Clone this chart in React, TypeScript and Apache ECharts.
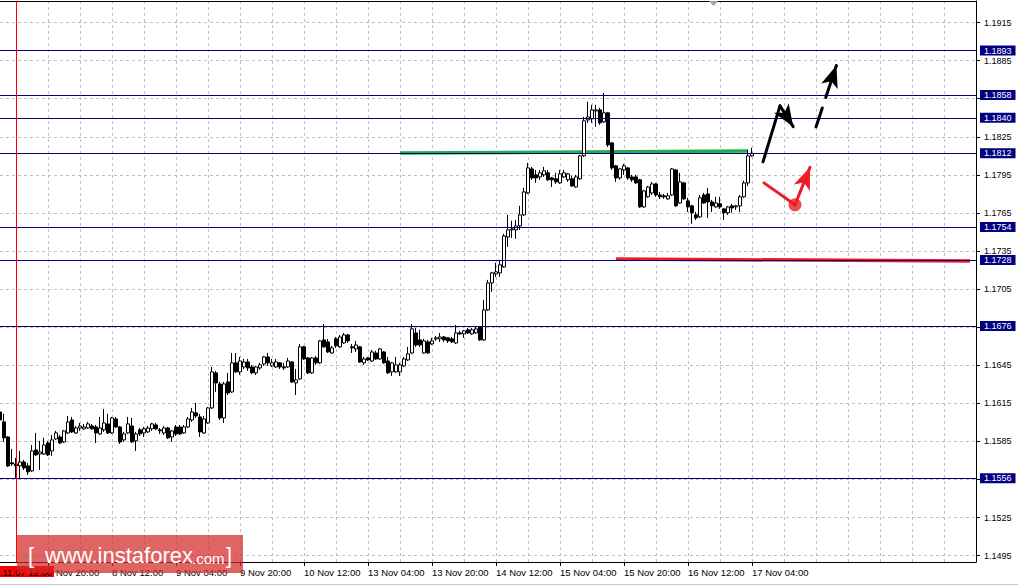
import React, { useEffect, useRef } from "react";
import * as echarts from "echarts";

// ---------- data ----------
const openPrices = [
  1.16082, 1.16004, 1.15885, 1.15681, 1.15673, 1.15657, 1.15688, 1.15657, 1.15618, 1.15783,
  1.15751, 1.15751, 1.15838, 1.15775, 1.15870, 1.15885, 1.15846, 1.15917, 1.16019, 1.15917,
  1.15956, 1.15949, 1.15956, 1.15972, 1.15964, 1.15909, 1.15941, 1.15988, 1.15917, 1.16027,
  1.15964, 1.15862, 1.15917, 1.15972, 1.15854, 1.15941, 1.15917, 1.15925, 1.15949, 1.15980,
  1.15941, 1.15917, 1.15956, 1.15885, 1.15964, 1.15964, 1.15917, 1.15964, 1.16019, 1.16075,
  1.16043, 1.15917, 1.15996, 1.16114, 1.16390, 1.16303, 1.16035, 1.16319, 1.16240, 1.16469,
  1.16398, 1.16437, 1.16476, 1.16437, 1.16390, 1.16429, 1.16461, 1.16516, 1.16445, 1.16437,
  1.16469, 1.16437, 1.16437, 1.16476, 1.16311, 1.16343, 1.16595, 1.16508, 1.16390, 1.16508,
  1.16469, 1.16650, 1.16634, 1.16547, 1.16658, 1.16595, 1.16626, 1.16689, 1.16595, 1.16579,
  1.16595, 1.16469, 1.16508, 1.16484, 1.16547, 1.16500, 1.16555, 1.16484, 1.16398, 1.16398,
  1.16398, 1.16445, 1.16492, 1.16547, 1.16705, 1.16650, 1.16547, 1.16634, 1.16618, 1.16658,
  1.16658, 1.16673, 1.16666, 1.16658, 1.16626, 1.16705, 1.16697, 1.16729, 1.16697, 1.16705,
  1.16752, 1.16650, 1.16886, 1.17099, 1.17170, 1.17178, 1.17225, 1.17461, 1.17517, 1.17517,
  1.17548, 1.17635, 1.17808, 1.17997, 1.17950, 1.17934, 1.17950, 1.17966, 1.17926, 1.17919,
  1.17887, 1.17934, 1.17911, 1.17919, 1.17855, 1.17919, 1.18100, 1.18383, 1.18391, 1.18454,
  1.18462, 1.18368, 1.18439, 1.18202, 1.18021, 1.17926, 1.17989, 1.18005, 1.17934, 1.17934,
  1.17911, 1.17698, 1.17777, 1.17808, 1.17879, 1.17792, 1.17785, 1.17761, 1.17792, 1.17989,
  1.17729, 1.17887, 1.17745, 1.17706, 1.17635, 1.17619, 1.17792, 1.17800, 1.17737, 1.17698,
  1.17722, 1.17682, 1.17651, 1.17706, 1.17698, 1.17706, 1.17777, 1.17887, 1.18100
];
const closePrices = [
  1.16019, 1.15878, 1.15657, 1.15673, 1.15657, 1.15688, 1.15641, 1.15610, 1.15775, 1.15744,
  1.15767, 1.15822, 1.15744, 1.15862, 1.15917, 1.15838, 1.15933, 1.16004, 1.15925, 1.15956,
  1.15972, 1.15964, 1.15988, 1.15949, 1.15917, 1.15956, 1.15996, 1.15917, 1.16035, 1.15964,
  1.15846, 1.15909, 1.15988, 1.15846, 1.15909, 1.15909, 1.15949, 1.15956, 1.15988, 1.15949,
  1.15933, 1.15956, 1.15878, 1.15933, 1.15909, 1.15909, 1.15964, 1.16027, 1.16082, 1.16051,
  1.15925, 1.16027, 1.16114, 1.16398, 1.16311, 1.16035, 1.16303, 1.16232, 1.16469, 1.16398,
  1.16484, 1.16476, 1.16429, 1.16390, 1.16437, 1.16453, 1.16516, 1.16469, 1.16469, 1.16476,
  1.16437, 1.16429, 1.16484, 1.16319, 1.16335, 1.16595, 1.16500, 1.16390, 1.16508, 1.16469,
  1.16642, 1.16595, 1.16555, 1.16587, 1.16603, 1.16673, 1.16689, 1.16642, 1.16587, 1.16610,
  1.16476, 1.16500, 1.16492, 1.16555, 1.16500, 1.16579, 1.16469, 1.16390, 1.16469, 1.16453,
  1.16453, 1.16500, 1.16540, 1.16737, 1.16610, 1.16610, 1.16642, 1.16547, 1.16642, 1.16666,
  1.16673, 1.16650, 1.16642, 1.16634, 1.16705, 1.16697, 1.16721, 1.16705, 1.16729, 1.16737,
  1.16650, 1.16886, 1.17099, 1.17178, 1.17186, 1.17241, 1.17469, 1.17517, 1.17525, 1.17548,
  1.17635, 1.17816, 1.18005, 1.17926, 1.17926, 1.17966, 1.17982, 1.17911, 1.17911, 1.17895,
  1.17958, 1.17966, 1.17958, 1.17863, 1.17934, 1.18100, 1.18376, 1.18407, 1.18462, 1.18462,
  1.18360, 1.18439, 1.18186, 1.18005, 1.17926, 1.17997, 1.18021, 1.17926, 1.17911, 1.17887,
  1.17698, 1.17824, 1.17855, 1.17879, 1.17792, 1.17777, 1.17777, 1.17785, 1.17997, 1.17706,
  1.17895, 1.17761, 1.17698, 1.17651, 1.17611, 1.17769, 1.17729, 1.17737, 1.17706, 1.17729,
  1.17698, 1.17651, 1.17698, 1.17690, 1.17706, 1.17777, 1.17887, 1.18100, 1.18120
];
const lowPrices = [
  1.16004, 1.15846, 1.15649, 1.15657, 1.15554, 1.15554, 1.15625, 1.15586, 1.15610, 1.15736,
  1.15625, 1.15744, 1.15736, 1.15736, 1.15862, 1.15830, 1.15838, 1.15909, 1.15917, 1.15909,
  1.15933, 1.15941, 1.15949, 1.15941, 1.15838, 1.15901, 1.15925, 1.15909, 1.15909, 1.15956,
  1.15830, 1.15846, 1.15909, 1.15838, 1.15775, 1.15893, 1.15885, 1.15917, 1.15933, 1.15941,
  1.15909, 1.15901, 1.15870, 1.15846, 1.15893, 1.15901, 1.15909, 1.15956, 1.16004, 1.16035,
  1.15885, 1.15909, 1.15988, 1.16106, 1.16240, 1.16019, 1.15996, 1.16216, 1.16232, 1.16390,
  1.16374, 1.16421, 1.16406, 1.16382, 1.16374, 1.16413, 1.16445, 1.16445, 1.16437, 1.16429,
  1.16421, 1.16413, 1.16429, 1.16311, 1.16216, 1.16335, 1.16492, 1.16382, 1.16382, 1.16453,
  1.16461, 1.16587, 1.16547, 1.16540, 1.16587, 1.16587, 1.16618, 1.16626, 1.16547, 1.16555,
  1.16469, 1.16453, 1.16484, 1.16476, 1.16492, 1.16492, 1.16461, 1.16382, 1.16366, 1.16390,
  1.16366, 1.16437, 1.16484, 1.16540, 1.16595, 1.16595, 1.16540, 1.16540, 1.16610, 1.16642,
  1.16634, 1.16634, 1.16626, 1.16626, 1.16618, 1.16689, 1.16666, 1.16697, 1.16689, 1.16697,
  1.16642, 1.16642, 1.16878, 1.17028, 1.17146, 1.17146, 1.17217, 1.17383, 1.17454, 1.17446,
  1.17517, 1.17627, 1.17800, 1.17911, 1.17887, 1.17911, 1.17934, 1.17903, 1.17855, 1.17879,
  1.17879, 1.17926, 1.17895, 1.17855, 1.17848, 1.17911, 1.18092, 1.18360, 1.18360, 1.18328,
  1.18344, 1.18360, 1.18171, 1.17989, 1.17895, 1.17911, 1.17950, 1.17911, 1.17895, 1.17879,
  1.17690, 1.17690, 1.17769, 1.17792, 1.17777, 1.17761, 1.17761, 1.17753, 1.17785, 1.17698,
  1.17722, 1.17753, 1.17658, 1.17564, 1.17595, 1.17611, 1.17722, 1.17611, 1.17658, 1.17690,
  1.17682, 1.17595, 1.17635, 1.17651, 1.17674, 1.17658, 1.17769, 1.17863, 1.18092
];
const highPrices = [
  1.16098, 1.16067, 1.15893, 1.15791, 1.15720, 1.15775, 1.15704, 1.15681, 1.15822, 1.15917,
  1.15854, 1.15878, 1.15854, 1.15901, 1.15933, 1.15901, 1.15941, 1.16051, 1.16043, 1.15972,
  1.15996, 1.15988, 1.16004, 1.15988, 1.15980, 1.16043, 1.16106, 1.16067, 1.16043, 1.16043,
  1.15972, 1.15925, 1.16043, 1.16035, 1.15925, 1.15956, 1.15964, 1.15972, 1.15996, 1.15996,
  1.15956, 1.15972, 1.15964, 1.15941, 1.15980, 1.15980, 1.15980, 1.16043, 1.16114, 1.16153,
  1.16067, 1.16051, 1.16122, 1.16437, 1.16406, 1.16319, 1.16319, 1.16390, 1.16547, 1.16547,
  1.16516, 1.16500, 1.16500, 1.16453, 1.16445, 1.16469, 1.16524, 1.16547, 1.16500, 1.16500,
  1.16476, 1.16469, 1.16508, 1.16484, 1.16421, 1.16618, 1.16603, 1.16516, 1.16516, 1.16524,
  1.16650, 1.16776, 1.16658, 1.16603, 1.16673, 1.16689, 1.16705, 1.16697, 1.16618, 1.16642,
  1.16603, 1.16516, 1.16516, 1.16571, 1.16563, 1.16587, 1.16563, 1.16516, 1.16476, 1.16516,
  1.16469, 1.16516, 1.16595, 1.16776, 1.16744, 1.16729, 1.16658, 1.16650, 1.16666, 1.16681,
  1.16705, 1.16681, 1.16673, 1.16673, 1.16768, 1.16721, 1.16729, 1.16744, 1.16744, 1.16760,
  1.16760, 1.16965, 1.17123, 1.17186, 1.17257, 1.17280, 1.17485, 1.17635, 1.17588, 1.17595,
  1.17706, 1.17848, 1.18045, 1.18013, 1.17989, 1.17989, 1.18013, 1.17989, 1.17934, 1.17966,
  1.17989, 1.17989, 1.17966, 1.17942, 1.17950, 1.18108, 1.18407, 1.18525, 1.18502, 1.18502,
  1.18478, 1.18596, 1.18446, 1.18210, 1.18029, 1.18005, 1.18037, 1.18013, 1.17950, 1.17950,
  1.17919, 1.17832, 1.17863, 1.17895, 1.17887, 1.17816, 1.17800, 1.17808, 1.18005, 1.17997,
  1.17966, 1.17895, 1.17769, 1.17714, 1.17658, 1.17792, 1.17808, 1.17848, 1.17753, 1.17777,
  1.17777, 1.17690, 1.17706, 1.17722, 1.17714, 1.17792, 1.17903, 1.18147, 1.18163
];

// horizontal support / resistance levels
const levels = [1.1893, 1.1858, 1.184, 1.1812, 1.1754, 1.1728, 1.1676, 1.1556];
// price-scale grid ticks and the labels that stay visible
const yTicks = [1.1495, 1.1525, 1.1555, 1.1585, 1.1615, 1.1645, 1.1675, 1.1705, 1.1735, 1.1765, 1.1795, 1.1825, 1.1855, 1.1885, 1.1915];
const yTickLabels = [1.1495, 1.1525, 1.1585, 1.1615, 1.1645, 1.1705, 1.1735, 1.1765, 1.1795, 1.1825, 1.1885, 1.1915];
// time-scale tick labels (H1 bars, every 16 bars)
const xTickLabels = ["7 Nov 20:00", "8 Nov 12:00", "9 Nov 04:00", "9 Nov 20:00", "10 Nov 12:00", "13 Nov 04:00", "13 Nov 20:00", "14 Nov 12:00", "15 Nov 04:00", "15 Nov 20:00", "16 Nov 12:00", "17 Nov 04:00"];
const periodLabel = "2017.11.07 12:00";

// drawn annotations: [bar position, price]
const greenLine = [[100, 1.18122], [187, 1.18138]];
const redLine = [[154, 1.17287], [242.5, 1.17271]];
const blackUp = [[190.75, 1.18052], [195, 1.18494]];
const blackDown = [[195, 1.18494], [198.3, 1.18330]];
const blackDashed = [[204, 1.18328], [209.1, 1.18812]];
const redDown = [[191, 1.17887], [198.75, 1.17714]];
const redUp = [[198.75, 1.17714], [202.5, 1.18010]];
const redDot = [[198.75, 1.17714]];
const periodBar = 4;

// ---------- derived ----------
const TOTAL_SLOTS = 245;
const BAR_COUNT = openPrices.length;
const FONT = "'Liberation Sans', Arial, sans-serif";

function buildCategories(): string[] {
  const out: string[] = [];
  let day = 7;
  let hour = 8;
  for (let i = 0; i < TOTAL_SLOTS; i++) {
    out.push(`${day} Nov ${String(hour).padStart(2, "0")}:00`);
    hour++;
    if (hour === 24) {
      hour = 0;
      day++;
      if (day === 11) day = 13; // weekend gap
    }
  }
  return out;
}
const categories = buildCategories();
const labelSet = new Set(xTickLabels);
const isLabelIdx = (i: number) => i < BAR_COUNT && labelSet.has(categories[i]);

const ohlc = openPrices.map((o, i) => [o, closePrices[i], lowPrices[i], highPrices[i]]);

const seg = (pts: number[][], color: string, opts: any = {}) => [
  { coord: pts[0], symbol: "none" },
  {
    coord: pts[1],
    symbol: opts.arrow ? "arrow" : "none",
    symbolSize: [13, 22],
    lineStyle: { color, width: 3, type: opts.dash ? [20, 11] : "solid", cap: "round" },
    itemStyle: { color },
  },
];

export default function App() {
  const ref = useRef<HTMLDivElement>(null);
  useEffect(() => {
    if (!ref.current) return;
    const chart = echarts.init(ref.current, null, { renderer: "svg" });
    const option: any = {
      animation: false,
      backgroundColor: "#ffffff",
      grid: { left: 0, right: 42, top: 1, bottom: 24, outerBoundsMode: "none" },
      xAxis: [
        {
          type: "category",
          data: categories,
          boundaryGap: false,
          axisLine: { show: true, onZero: false, lineStyle: { color: "#000", width: 1 } },
          axisTick: { show: true, length: 4, interval: (i: number) => isLabelIdx(i), lineStyle: { color: "#000" } },
          axisLabel: {
            interval: (i: number) => isLabelIdx(i),
            align: "left",
            margin: 5,
            fontSize: 9.5,
            color: "#000",
            fontFamily: FONT,
          },
          splitLine: {
            show: true,
            interval: (i: number) => (i - 4) % 8 === 0,
            lineStyle: { color: "#c0c0c0", type: [3, 3], width: 1 },
          },
        },
        {
          type: "value",
          min: 0,
          max: TOTAL_SLOTS - 1,
          position: "top",
          axisLine: { show: true, onZero: false, lineStyle: { color: "#000", width: 1 } },
          axisTick: { show: false },
          axisLabel: { show: false },
          splitLine: { show: false },
        },
      ],
      yAxis: {
        type: "value",
        position: "right",
        min: 1.149,
        max: 1.1932,
        axisLine: { show: true, onZero: false, lineStyle: { color: "#000", width: 1 } },
        axisTick: { show: true, length: 4, customValues: yTicks, lineStyle: { color: "#000" } },
        axisLabel: {
          customValues: yTickLabels,
          formatter: (v: number) => v.toFixed(4),
          margin: 8,
          fontSize: 9,
          color: "#000",
          fontFamily: FONT,
        },
        splitLine: { show: true, lineStyle: { color: "#c0c0c0", type: [3, 3], width: 1 } },
      },
      series: [
        {
          type: "candlestick",
          xAxisIndex: 0,
          data: ohlc,
          barWidth: 3,
          silent: true,
          itemStyle: {
            color: "#ffffff",
            color0: "#000000",
            borderColor: "#000000",
            borderColor0: "#000000",
            borderColorDoji: "#000000",
            borderWidth: 1,
          },
          markLine: {
            silent: true,
            symbol: "none",
            animation: false,
            precision: 4,
            lineStyle: { color: "#000080", width: 1, type: "solid" },
            label: {
              show: true,
              position: "end",
              distance: 4,
              formatter: (p: any) => Number(p.value).toFixed(4),
              backgroundColor: "#000080",
              color: "#ffffff",
              padding: [1, 4, 0, 4],
              fontSize: 9,
              fontFamily: FONT,
            },
            emphasis: { disabled: true },
            data: levels.map((v) => ({ yAxis: v })),
          },
          z: 4,
        },
        {
          type: "line",
          xAxisIndex: 1,
          data: greenLine,
          symbol: "none",
          silent: true,
          lineStyle: { color: "#1fae4a", width: 3.5 },
          z: 3,
          markLine: {
            silent: true,
            animation: false,
            precision: 6,
            symbol: "none",
            label: { show: false },
            emphasis: { disabled: true },
            data: [
              { xAxis: periodBar, lineStyle: { color: "#ff0000", width: 1, type: "solid" } },
              seg(blackUp, "#000000"),
              seg(blackDown, "#000000", { arrow: true }),
              seg(blackDashed, "#000000", { arrow: true, dash: true }),
              seg(redDown, "#ee1c25"),
              seg(redUp, "#ee1c25", { arrow: true }),
            ],
          },
        },
        {
          type: "line",
          xAxisIndex: 1,
          data: redLine,
          symbol: "none",
          silent: true,
          lineStyle: { color: "#ee1c25", width: 3.5 },
          z: 3,
        },
        {
          type: "scatter",
          xAxisIndex: 1,
          data: redDot,
          symbol: "circle",
          symbolSize: 13,
          silent: true,
          itemStyle: { color: "#ee1c25" },
          z: 5,
        },
      ],
      graphic: [
        {
          type: "polygon",
          z: 50,
          silent: true,
          shape: { points: [[709, 1], [718, 1], [713.5, 6]] },
          style: { fill: "#a0a0a0" },
        },
        {
          type: "line",
          z: 50,
          silent: true,
          shape: { x1: 0, y1: 584.5, x2: 1018, y2: 584.5 },
          style: { stroke: "#c8c8c8", lineWidth: 1 },
        },
        {
          type: "rect",
          z: 60,
          silent: true,
          shape: { x: 0, y: 566, width: 54, height: 11 },
          style: { fill: "#ff0000" },
        },
        {
          type: "text",
          z: 61,
          silent: true,
          x: 52,
          y: 572,
          style: { text: periodLabel, fill: "#000000", font: `9.5px ${FONT}`, textAlign: "right", textVerticalAlign: "middle" },
        },
        {
          type: "rect",
          z: 70,
          silent: true,
          shape: { x: 17, y: 535, width: 226, height: 38 },
          style: { fill: "rgba(210,40,40,0.72)" },
        },
        {
          type: "text",
          z: 71,
          silent: true,
          x: 28,
          y: 555,
          style: { text: "[", fill: "#ffffff", font: `22px ${FONT}`, textAlign: "left", textVerticalAlign: "middle" },
        },
        {
          type: "text",
          z: 71,
          silent: true,
          x: 45,
          y: 555,
          style: { text: "www.instaforex", fill: "#ffffff", font: `22px ${FONT}`, textAlign: "left", textVerticalAlign: "middle" },
        },
        {
          type: "text",
          z: 71,
          silent: true,
          x: 192,
          y: 558,
          style: { text: ".com", fill: "#ffffff", font: `15px ${FONT}`, textAlign: "left", textVerticalAlign: "middle" },
        },
        {
          type: "text",
          z: 71,
          silent: true,
          x: 226,
          y: 555,
          style: { text: "]", fill: "#ffffff", font: `22px ${FONT}`, textAlign: "left", textVerticalAlign: "middle" },
        },
      ],
    };
    chart.setOption(option);
    return () => chart.dispose();
  }, []);
  return (
    <div
      ref={ref}
      style={{ position: "fixed", left: 0, top: 0, width: 1018, height: 586, background: "#fff" }}
    />
  );
}
